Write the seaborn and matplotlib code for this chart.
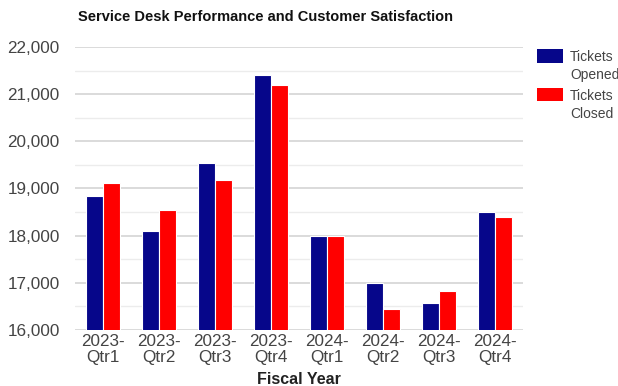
import matplotlib
matplotlib.use("Agg")
import matplotlib.pyplot as plt
import seaborn as sns
import pandas as pd
from matplotlib.ticker import MultipleLocator, FuncFormatter
from matplotlib.legend_handler import HandlerPatch
from matplotlib.patches import Rectangle

quarters = ["2023-\nQtr1", "2023-\nQtr2", "2023-\nQtr3", "2023-\nQtr4",
            "2024-\nQtr1", "2024-\nQtr2", "2024-\nQtr3", "2024-\nQtr4"]
tickets_opened = [18840, 18100, 19540, 21400, 18000, 17000, 16570, 18500]
tickets_closed = [19120, 18550, 19180, 21200, 18000, 16450, 16830, 18400]
series_names = ["Tickets\nOpened", "Tickets\nClosed"]
colors = ["#06068A", "#FF0000"]

df = pd.DataFrame({
    "Quarter": quarters * 2,
    "Tickets": tickets_opened + tickets_closed,
    "Series": [series_names[0]] * len(quarters) + [series_names[1]] * len(quarters),
})

sns.set_theme(style="white")
plt.rcParams['font.family'] = ['Liberation Sans', 'DejaVu Sans']

fig = plt.figure(figsize=(6.18, 3.86), dpi=100)
ax = fig.add_axes([75/618, 1-330/386, (523-75)/618, (330-47)/386])

sns.barplot(data=df, x="Quarter", y="Tickets", hue="Series", palette=colors,
            width=0.62, ax=ax, edgecolor="white", linewidth=0.8, saturation=1)

ax.set_ylim(16000, 22000)
ax.yaxis.set_major_locator(MultipleLocator(1000))
ax.yaxis.set_minor_locator(MultipleLocator(500))
ax.yaxis.set_major_formatter(FuncFormatter(lambda v, p: f"{int(v):,}"))
ax.grid(axis="y", which="major", color="#d4d4d4", linewidth=1.2)
ax.grid(axis="y", which="minor", color="#ececec", linewidth=1.0)
ax.set_axisbelow(True)
for s in ax.spines.values():
    s.set_visible(False)
ax.tick_params(axis="both", which="both", length=0)
ax.tick_params(axis="y", labelsize=12.3, labelcolor="#444444", pad=11)
ax.tick_params(axis="x", labelsize=12.3, labelcolor="#444444", pad=3)
for lbl in ax.get_xticklabels():
    lbl.set_linespacing(1.1)
ax.set_ylabel("")
ax.set_xlabel("Fiscal Year", fontsize=11.5, fontweight="bold", color="#222222", labelpad=4.5)

fig.text(78/618, 1-17/386, "Service Desk Performance and Customer Satisfaction",
         fontsize=10.5, fontweight="bold", color="#111111", ha="left", va="center")


class TopPatchHandler(HandlerPatch):
    def create_artists(self, legend, orig_handle, xdescent, ydescent,
                       width, height, fontsize, trans):
        rh = 1.0 * fontsize
        top = -ydescent + height + 0.36 * fontsize
        p = Rectangle((-xdescent, top - rh), width, rh,
                      facecolor=orig_handle.get_facecolor(), edgecolor="none",
                      transform=trans)
        return [p]


handles, labels = ax.get_legend_handles_labels()
leg = ax.legend(handles, labels, loc="upper left", bbox_to_anchor=(537/618, 1-50/386),
                bbox_transform=fig.transFigure, frameon=False, fontsize=10,
                labelcolor="#444444", handlelength=1.87, handleheight=2.6,
                handletextpad=0.5, labelspacing=0.5, borderpad=0, borderaxespad=0,
                handler_map={type(handles[0]): TopPatchHandler()})
for t in leg.get_texts():
    t.set_linespacing(1.35)

fig.savefig("out.png", dpi=100)
